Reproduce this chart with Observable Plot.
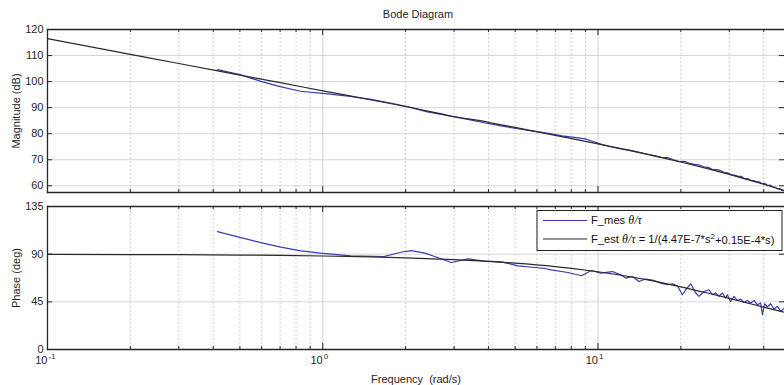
<!DOCTYPE html>
<html>
<head>
<meta charset="utf-8">
<script src="https://cdn.jsdelivr.net/npm/d3@7"></script>
<script src="https://cdn.jsdelivr.net/npm/@observablehq/plot@0.6"></script>
<style>
  body { margin: 0; background: #fff; }
  #chart { position: relative; width: 784px; height: 385px; overflow: hidden; background: #fff; }
  #chart svg { display: block; }
</style>
</head>
<body>
<div id="chart"></div>
<script>
// Estimated transfer function F_est (rad/s, dB, deg)
const estFreq  = [0.1, 0.2, 0.3, 0.5, 0.7, 1, 1.5, 2, 3, 4, 5, 7, 10, 12, 15, 18, 20, 25, 30, 35, 40, 45, 48];
const estMag   = [116.48, 110.46, 106.94, 102.50, 99.58, 96.47, 92.95, 90.44, 86.61, 84.38, 82.40, 79.39, 76.11, 74.38, 72.17, 70.27, 69.14, 66.60, 64.39, 62.40, 60.60, 58.95, 58.02];
const estPhase = [89.83, 89.66, 89.49, 89.15, 88.81, 88.29, 87.44, 86.59, 84.89, 83.20, 81.53, 78.22, 73.40, 70.32, 65.90, 61.79, 59.20, 53.30, 48.20, 43.80, 40.00, 36.70, 35.00];

// Measured response F_mes, magnitude
const mesMagFreq = [0.4145, 0.5, 0.6, 0.7, 0.83, 1.0, 1.26, 1.5, 1.8, 2.1, 2.4, 2.7, 3.0, 3.4, 3.9, 4.5, 5.1, 5.9, 6.6, 7.4, 8.2, 9.0, 9.6, 10.3, 11.0, 12.0, 13.0, 14.0, 15.0, 16.0, 17.0, 17.9, 18.8, 19.7, 20.6, 21.5, 22.4, 23.3, 24.2, 25.1, 26.0, 26.9, 27.8, 28.7, 29.6, 30.5, 31.4, 32.3, 33.2, 34.1, 35.0, 35.9, 36.8, 37.7, 38.6, 39.5, 40.4, 41.3, 42.2, 43.1, 44.0, 44.9, 45.8, 46.7, 47.6];
const mesMag     = [104.6, 102.7, 100.0, 98.1, 96.3, 95.5, 94.3, 93.2, 91.6, 90.0, 88.4, 87.4, 86.4, 85.4, 84.1, 82.9, 81.9, 80.9, 80.1, 79.2, 78.6, 78.0, 77.0, 75.9, 75.1, 74.3, 73.7, 72.9, 72.2, 71.6, 70.9, 70.8, 70.0, 69.3, 69.4, 68.6, 68.2, 68.0, 67.3, 67.1, 66.3, 66.2, 65.9, 65.2, 65.0, 64.2, 64.1, 63.6, 63.6, 62.7, 62.8, 62.0, 62.0, 61.5, 61.5, 60.8, 60.9, 60.1, 60.3, 59.6, 59.5, 58.8, 58.9, 58.2, 58.1];

// Measured response F_mes, phase
const mesPhaseFreq = [0.4145, 0.504, 0.595, 0.704, 0.832, 0.983, 1.264, 1.67, 1.92, 2.10, 2.35, 2.55, 2.93, 3.37, 3.88, 4.46, 5.12, 5.89, 6.40, 6.77, 7.78, 8.70, 9.46, 10.23, 11.28, 12.09, 12.61, 13.34, 14.09, 14.91, 15.97, 16.90, 17.87, 18.63, 19.43, 20.26, 20.83, 21.71, 22.64, 23.28, 24.27, 25.31, 26.03, 26.76, 27.51, 28.30, 29.09, 29.51, 30.34, 31.19, 32.09, 32.99, 33.92, 34.89, 35.86, 36.87, 37.93, 38.99, 39.56, 40.33, 41.25, 42.40, 43.59, 44.84, 46.09, 47.67];
const mesPhase     = [111.3, 105.6, 100.9, 96.6, 93.1, 90.9, 88.4, 87.8, 91.8, 93.4, 91.0, 87.8, 82.1, 85.6, 83.4, 82.8, 79.0, 77.4, 76.5, 75.2, 72.7, 69.6, 74.6, 72.1, 73.6, 70.5, 67.4, 68.9, 64.2, 66.5, 65.2, 62.7, 61.1, 62.0, 60.2, 51.7, 56.4, 62.0, 53.3, 50.1, 54.8, 56.4, 51.7, 53.3, 50.1, 53.3, 48.6, 51.7, 45.4, 50.1, 46.3, 47.6, 44.4, 46.3, 43.9, 46.3, 42.3, 43.9, 32.9, 43.2, 40.1, 43.2, 38.2, 40.7, 36.0, 39.2];

// Axis ticks
const magTicks   = [60, 70, 80, 90, 100, 110, 120];
const phaseTicks = [0, 45, 90, 135];
const decades    = [0.1, 1, 10];
const decadeExp  = ["-1", "0", "1"];
const minorFreqs = [0.2, 0.3, 0.4, 0.5, 0.6, 0.7, 0.8, 0.9, 2, 3, 4, 5, 6, 7, 8, 9, 20, 30, 40];

const est = estFreq.map((w, i) => ({w, mag: estMag[i], phase: estPhase[i]}));
const mesM = mesMagFreq.map((w, i) => ({w, v: mesMag[i]}));
const mesP = mesPhaseFreq.map((w, i) => ({w, v: mesPhase[i]}));

const W = 784, ML = 47, MR = 0;
const FW = W - ML - MR;
const BLUE = "#3a3ab2", BLACK = "#2a2a2a", INK = "#262626";
const FONT = "'Liberation Sans', Arial, sans-serif";
const xOpts = {type: "log", domain: [0.1, 47.6], axis: null};

function gridMarks(yTicks) {
  return [
    Plot.ruleY(yTicks, {stroke: "#d6d6d6", strokeWidth: 1}),
    Plot.ruleX(minorFreqs, {stroke: "#c4c4c4", strokeDasharray: "1.5,2.5"}),
    Plot.ruleX(decades, {stroke: "#cfcfcf"}),
  ];
}

function boxMarks(yTicks, frameH) {
  return [
    // inward tick marks on all sides
    Plot.tickY(yTicks, {y: d => d, insetRight: FW - 5, stroke: INK}),
    Plot.tickY(yTicks, {y: d => d, insetLeft: FW - 5, stroke: INK}),
    Plot.tickX(minorFreqs, {x: d => d, insetTop: frameH - 3, stroke: INK}),
    Plot.tickX(minorFreqs, {x: d => d, insetBottom: frameH - 3, stroke: INK}),
    Plot.tickX(decades, {x: d => d, insetTop: frameH - 6, stroke: INK}),
    Plot.tickX(decades, {x: d => d, insetBottom: frameH - 6, stroke: INK}),
    // box edges
    Plot.frame({anchor: "top", stroke: INK, strokeWidth: 1.3}),
    Plot.frame({anchor: "bottom", stroke: INK, strokeWidth: 1.3}),
    Plot.frame({anchor: "left", stroke: INK, strokeWidth: 1.3})
  ];
}

// Magnitude panel
const H1 = 197, MT1 = 29, MB1 = 5;
const magPlot = Plot.plot({
  width: W, height: H1, marginLeft: ML, marginRight: MR, marginTop: MT1, marginBottom: MB1,
  style: {fontFamily: FONT, fontSize: "11px", color: INK, background: "#fff", overflow: "visible"},
  x: xOpts,
  y: {domain: [57.43, 120], axis: null},
  marks: [
    ...gridMarks(magTicks),
    Plot.line(mesM, {x: "w", y: "v", stroke: BLUE, strokeWidth: 1.2}),
    Plot.line(est, {x: "w", y: "mag", stroke: BLACK, strokeWidth: 1.2, curve: "monotone-x"}),
    Plot.axisY(magTicks, {tickSize: 0, tickPadding: 4, fontSize: 11, label: "Magnitude (dB)",
      labelAnchor: "center", labelArrow: "none", labelOffset: 35}),
    ...boxMarks(magTicks, H1 - MT1 - MB1)
  ]
});

// Phase panel
const H2 = 188, MT2 = 9, MB2 = 36;
const phasePlot = Plot.plot({
  width: W, height: H2, marginLeft: ML, marginRight: MR, marginTop: MT2, marginBottom: MB2,
  style: {fontFamily: FONT, fontSize: "11px", color: INK, background: "#fff", overflow: "visible"},
  x: xOpts,
  y: {domain: [0, 135], axis: null},
  marks: [
    ...gridMarks(phaseTicks),
    Plot.line(mesP, {x: "w", y: "v", stroke: BLUE, strokeWidth: 1.2}),
    Plot.line(est, {x: "w", y: "phase", stroke: BLACK, strokeWidth: 1.2, curve: "monotone-x"}),
    Plot.axisY(phaseTicks, {tickSize: 0, tickPadding: 4, fontSize: 11, label: "Phase (deg)",
      labelAnchor: "center", labelArrow: "none", labelOffset: 35}),
    Plot.text(decades, {x: d => d, text: () => "10", textAnchor: "end", frameAnchor: "bottom", dy: 14, fontSize: 11, fill: INK}),
    Plot.text(decades, {x: d => d, text: (d, i) => decadeExp[i], textAnchor: "start", frameAnchor: "bottom", dy: 9, dx: 1, fontSize: 8, fill: INK}),
    Plot.axisX({ticks: [], tickSize: 0, label: "Frequency  (rad/s)", labelAnchor: "center", labelArrow: "none", labelOffset: 33, fontSize: 11}),
    ...boxMarks(phaseTicks, H2 - MT2 - MB2)
  ]
});

const chart = document.getElementById("chart");
chart.appendChild(magPlot);
chart.appendChild(phasePlot);

// Title above the magnitude panel
d3.select(magPlot).append("text")
  .attr("x", 418).attr("y", 15)
  .attr("text-anchor", "middle").attr("dominant-baseline", "middle")
  .attr("font-family", FONT).attr("font-size", 11).attr("fill", INK)
  .text("Bode Diagram");

// Legend in the phase panel
const lg = d3.select(phasePlot).append("g")
  .attr("font-family", FONT).attr("font-size", 11.2).attr("fill", "#111")
  .attr("text-anchor", "start");
lg.append("rect").attr("x", 537).attr("y", 13.5).attr("width", 245).attr("height", 40)
  .attr("fill", "#fff").attr("stroke", "#222").attr("stroke-width", 1);
const rows = [{y: 23.5, color: BLUE}, {y: 42, color: BLACK}];
rows.forEach(r => lg.append("line").attr("x1", 543).attr("x2", 587).attr("y1", r.y).attr("y2", r.y)
  .attr("stroke", r.color).attr("stroke-width", 1.2));
const t1 = lg.append("text").attr("x", 591).attr("y", rows[0].y).attr("dy", "0.35em").attr("text-anchor", "start");
t1.append("tspan").text("F_mes ");
t1.append("tspan").attr("font-family", "'Liberation Serif', serif").attr("font-style", "italic").attr("font-size", 12).text("θ/τ");
const t2 = lg.append("text").attr("x", 591).attr("y", rows[1].y).attr("dy", "0.35em").attr("text-anchor", "start");
t2.append("tspan").text("F_est ");
t2.append("tspan").attr("font-family", "'Liberation Serif', serif").attr("font-style", "italic").attr("font-size", 12).text("θ/τ");
t2.append("tspan").text(" = 1/(4.47E-7*s");
t2.append("tspan").attr("font-size", 8).attr("dy", "-0.45em").text("2");
t2.append("tspan").attr("dy", "0.45em").text("+0.15E-4*s)");
</script>
</body>
</html>
